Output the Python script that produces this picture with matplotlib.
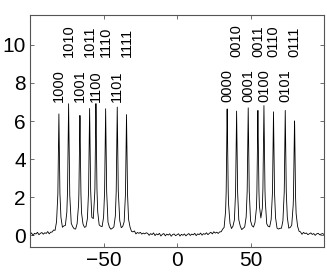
import numpy as np
import matplotlib
matplotlib.use("Agg")
import matplotlib.pyplot as plt

plt.rcParams['font.family'] = ['Liberation Sans', 'DejaVu Sans']

# Peak data
peak_x = [-80.4, -73.8, -66.1, -59.5, -55.2, -48.6, -40.7, -34.4,
          34.1, 40.5, 48.4, 55.0, 59.1, 65.6, 73.6, 79.9]
peak_h = [6.32, 6.83, 6.20, 6.50, 6.76, 6.55, 6.65, 6.28,
          6.58, 6.44, 6.60, 6.28, 6.65, 6.39, 6.48, 5.95]
peak_labels = ['1000', '1010', '1001', '1011', '1100', '1110', '1101', '1111',
               '0000', '0010', '0001', '0011', '0100', '0110', '0101', '0111']
peak_width = 0.5

# Baseline wiggle estimates, x = -100 .. 100 step 1
baseline = [
 0.05, 0.12, -0.02, 0.10, 0.06, 0.15, 0.02, 0.09, 0.13, 0.04,
 0.11, 0.07, 0.16, 0.03, 0.10, 0.08, 0.14, 0.01, 0.12, 0.06,
 0.09, 0.15, 0.05, 0.18, 0.08, 0.12, 0.03, 0.10, 0.06, 0.14,
 0.09, 0.04, 0.12, 0.07, 0.11, 0.02, 0.13, 0.08, 0.05, 0.10,
 0.06, 0.12, 0.03, 0.09, 0.14, 0.05, 0.11, 0.07, 0.13, 0.04,
 0.10, 0.06, 0.12, 0.02, 0.09, 0.07, 0.11, 0.05, 0.08, 0.13,
 0.07, 0.15, 0.04, 0.10, 0.06, 0.12, 0.03, 0.09, 0.14, 0.05,
 0.08, 0.16, 0.02, 0.11, 0.07, 0.13, 0.04, 0.10, 0.06, 0.12,
 0.09, -0.01, 0.08, 0.03, 0.12, -0.02, 0.07, 0.02, 0.10, -0.04,
 0.05, 0.09, -0.03, 0.06, 0.01, 0.08, -0.05, 0.04, 0.07, -0.02,
 0.03, 0.08, -0.04, 0.05, 0.00, 0.07, -0.03, 0.04, 0.09, -0.01,
 0.06, 0.02, 0.10, -0.02, 0.07, 0.03, 0.11, 0.00, 0.08, 0.04,
 0.12, 0.02, 0.09, 0.14, 0.05, 0.16, 0.08, 0.12, 0.04, 0.10,
 0.07, 0.13, 0.03, 0.09, 0.15, 0.06, 0.11, 0.02, 0.10, 0.07,
 0.12, 0.04, 0.09, 0.14, 0.05, 0.11, 0.07, 0.13, 0.03, 0.10,
 0.06, 0.12, 0.08, 0.15, 0.04, 0.11, 0.07, 0.13, 0.05, 0.09,
 0.12, 0.03, 0.10, 0.06, 0.14, 0.04, 0.09, 0.12, 0.02, 0.08,
 0.13, 0.05, 0.10, 0.03, 0.07, 0.12, -0.01, 0.09, 0.05, 0.11,
 0.02, 0.08, 0.12, 0.04, 0.07, -0.02, 0.10, 0.05, 0.09, 0.01,
 0.06, 0.11, 0.03, 0.08, -0.01, 0.07, 0.10, 0.02, 0.06, 0.09,
 0.04]

grid_x = np.arange(-100, 101, 1.0)
noise = np.array(baseline)
px = np.array(peak_x)
extra = np.concatenate([px + d for d in (-0.7, -0.35, 0.0, 0.35, 0.7)])
xs = np.concatenate([grid_x, extra])
ns = np.concatenate([noise, np.zeros_like(extra)])
order = np.argsort(xs)
xs = xs[order]
ns = ns[order]
ys = ns.copy()
for c, h in zip(peak_x, peak_h):
    ys += h / (1 + ((xs - c) / peak_width) ** 2)

fig = plt.figure(figsize=(3.27, 2.76), dpi=100)
ax = fig.add_axes([0.092, 0.104, 0.899, 0.842])
ax.plot(xs, ys, color='black', lw=0.6)

for i, (c, lab) in enumerate(zip(peak_x, peak_labels)):
    yb = 9.35 if i % 2 == 1 else 7.02
    ax.text(c, yb, lab, rotation=90, ha='center', va='bottom', fontsize=10.5)

ax.set_xlim(-100, 100)
ax.set_ylim(-0.62, 11.57)
ax.set_xticks([-50, 0, 50])
ax.set_yticks([0, 2, 4, 6, 8, 10])
ax.tick_params(direction='in', length=3, width=0.6, labelsize=15, pad=3,
               top=True, right=True, color='#555555')
for s in ax.spines.values():
    s.set_color('#555555')
    s.set_linewidth(0.8)

fig.savefig('out.png', dpi=100)
